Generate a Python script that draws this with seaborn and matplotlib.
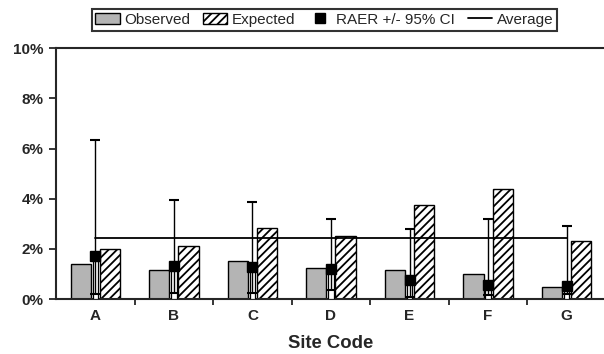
import numpy as np
import pandas as pd
import matplotlib
matplotlib.use("Agg")
import matplotlib.pyplot as plt
import seaborn as sns
from matplotlib.patches import Patch
from matplotlib.lines import Line2D

# -----------------------------
# Data (percent)
# -----------------------------
sites = ["A", "B", "C", "D", "E", "F", "G"]
observed = [1.41, 1.18, 1.53, 1.25, 1.18, 1.02, 0.47]
expected = [1.98, 2.10, 2.85, 2.50, 3.76, 4.38, 2.32]
raer = [1.70, 1.33, 1.30, 1.22, 0.75, 0.55, 0.52]
ci_low = [0.20, 0.24, 0.24, 0.35, 0.08, 0.15, 0.20]
ci_high = [6.35, 3.95, 3.87, 3.18, 2.80, 3.20, 2.92]
average = 2.45
yticks = [0, 2, 4, 6, 8, 10]

df = pd.DataFrame({
    "site": sites * 2,
    "value": observed + expected,
    "series": ["Observed"] * len(sites) + ["Expected"] * len(sites),
})

# -----------------------------
# Style
# -----------------------------
sns.set_style("ticks")
plt.rcParams["font.family"] = ["Liberation Sans", "DejaVu Sans"]
plt.rcParams["hatch.linewidth"] = 1.3
plt.rcParams["hatch.color"] = "black"

fig = plt.figure(figsize=(6.04, 3.54), dpi=100)
ax = fig.add_axes([0.093, 0.155, 0.91, 0.709])

sns.barplot(
    data=df, x="site", y="value", hue="series",
    palette={"Observed": "#b4b4b4", "Expected": "white"},
    width=0.74, gap=0.31, edgecolor="black", linewidth=1.0,
    legend=False, ax=ax, zorder=2,
)
for p in ax.patches[len(sites):]:
    p.set_hatch("////")

# RAER narrow bar, CI whiskers and marker
x = np.arange(len(sites))
ax.bar(x, raer, width=0.07, color="white", edgecolor="black", linewidth=0.9, zorder=3)
err = [np.array(raer) - np.array(ci_low), np.array(ci_high) - np.array(raer)]
ax.errorbar(x, raer, yerr=err, fmt="none", ecolor="black", elinewidth=1.0,
            capsize=3.5, capthick=1.5, zorder=4)
ax.plot(x, raer, "s", color="black", markersize=6.5, zorder=5)

# average line
ax.plot(x, np.full(len(sites), average), color="black", linewidth=1.3, zorder=4)

# -----------------------------
# Axes
# -----------------------------
ax.set_xlim(-0.5, len(sites) - 0.5)
ax.set_ylim(0, 10)
ax.set_yticks(yticks)
ax.set_yticklabels([f"{t}%" for t in yticks], fontsize=11, fontweight="bold")
ax.set_xticks(x)
ax.set_xticklabels(sites, fontsize=11, fontweight="bold")
ax.tick_params(axis="x", length=0, pad=7)
ax.tick_params(axis="y", length=5, width=1.3, pad=4)
ax.set_xticks(np.arange(len(sites)) + 0.5, minor=True)
ax.tick_params(axis="x", which="minor", length=4, width=1.3)
ax.set_xlabel("Site Code", fontsize=13.3, fontweight="bold", labelpad=9)
ax.set_ylabel("")

for s in ["left", "bottom", "top"]:
    ax.spines[s].set_linewidth(1.5)
ax.spines["right"].set_visible(False)

handles = [
    Patch(facecolor="#b4b4b4", edgecolor="black", linewidth=1.0, label="Observed"),
    Patch(facecolor="white", edgecolor="black", hatch="////", linewidth=1.0, label="Expected"),
    Line2D([], [], marker="s", color="black", linestyle="none", markersize=6.5,
           label="RAER +/- 95% CI"),
    Line2D([], [], color="black", linewidth=1.3, label="Average"),
]
leg = fig.legend(handles=handles, loc="center", bbox_to_anchor=(0.537, 0.944), ncol=4,
                 fontsize=11, frameon=True, fancybox=False, handlelength=1.6,
                 handletextpad=0.3, columnspacing=0.8, borderpad=0.25)
leg.get_frame().set_edgecolor("black")
leg.get_frame().set_linewidth(1.5)

fig.savefig("out.png", dpi=100)
